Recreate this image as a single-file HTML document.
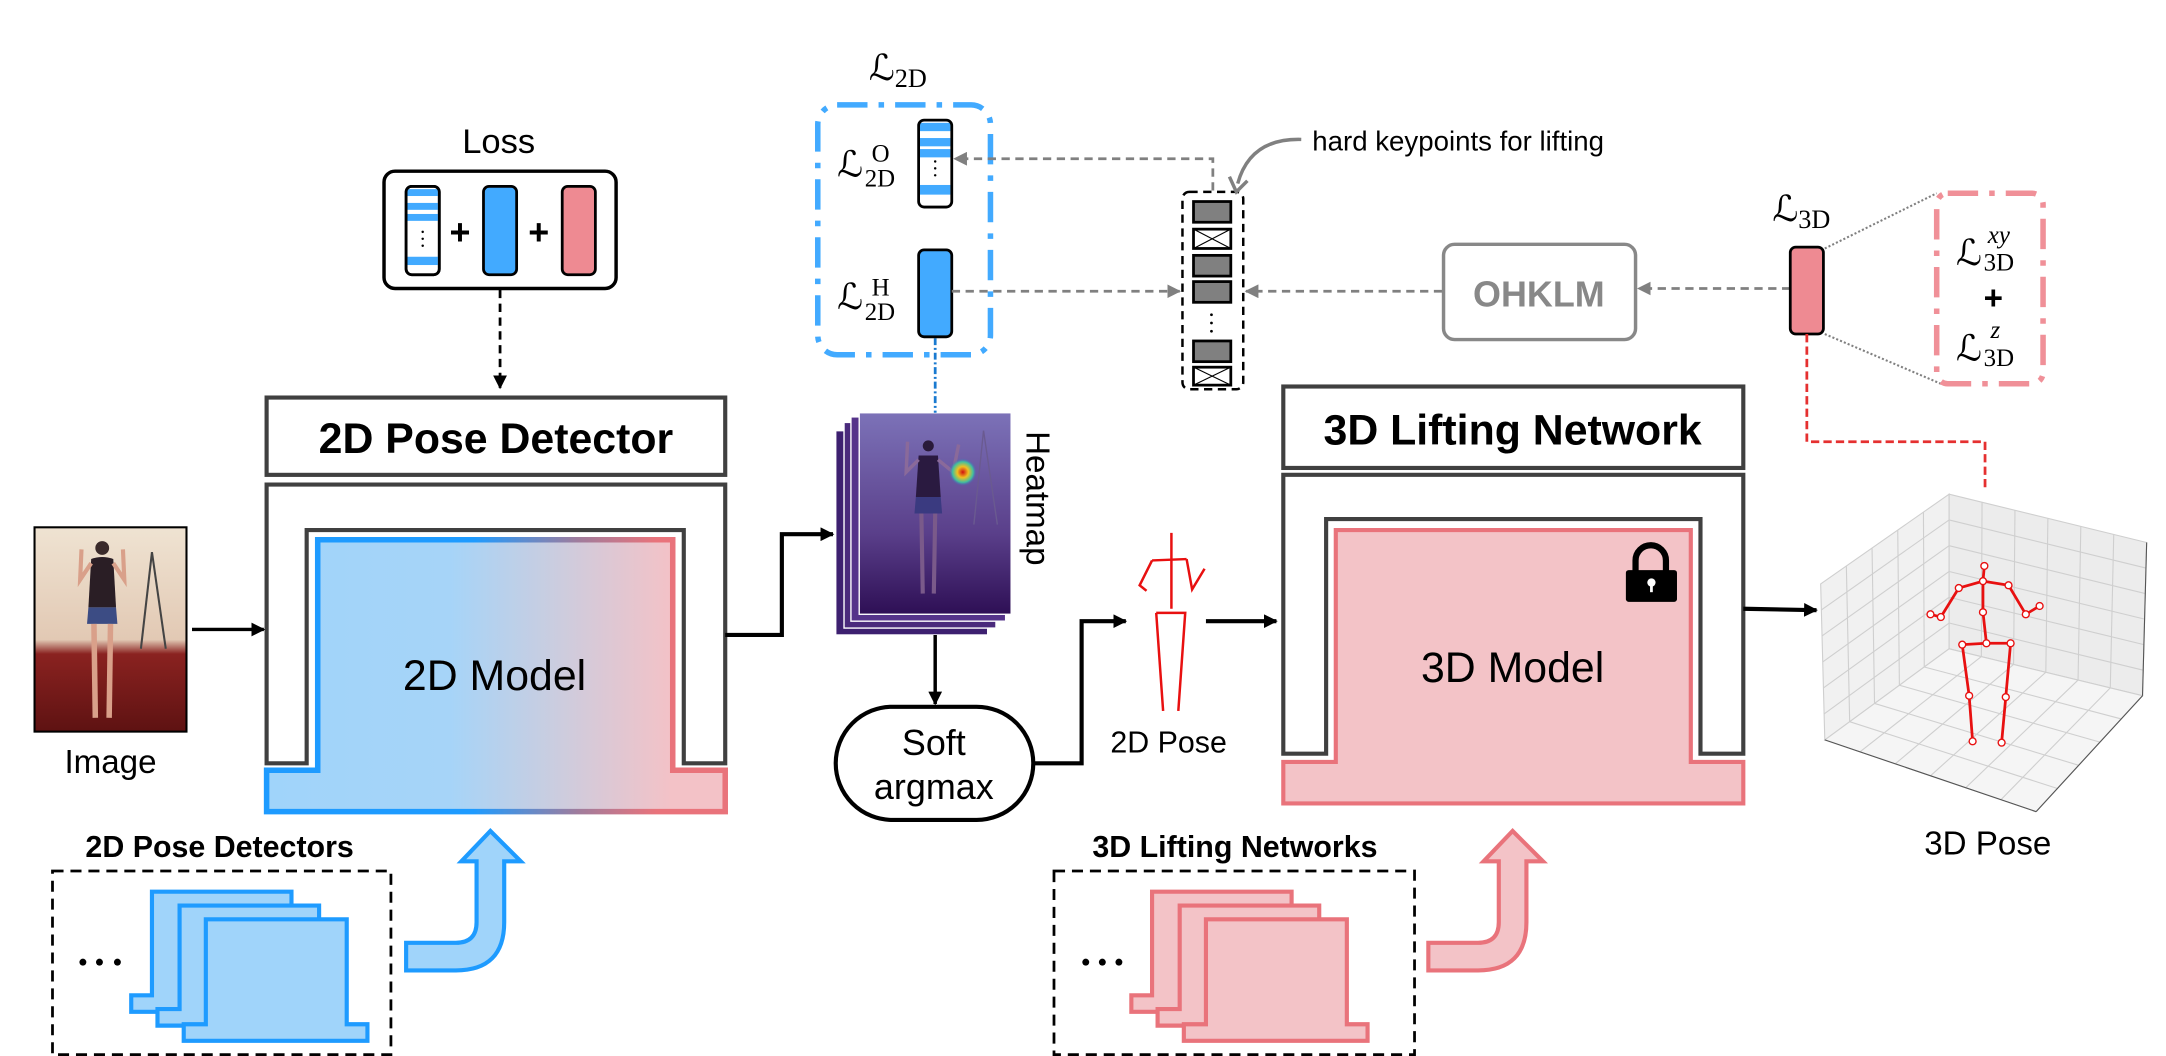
<!DOCTYPE html>
<html><head><meta charset="utf-8">
<style>
html,body{margin:0;padding:0;background:#fff;}
svg{display:block;}
text{font-family:"Liberation Sans",sans-serif;}
.m{font-family:"Liberation Serif","DejaVu Serif",serif;}
</style></head>
<body>
<svg width="2166" height="1056" viewBox="0 0 1568 765" preserveAspectRatio="none" xmlns="http://www.w3.org/2000/svg">
<defs>
<linearGradient id="gf" gradientUnits="userSpaceOnUse" x1="193" y1="0" x2="525" y2="0">
<stop offset="0" stop-color="#a0d4fa"/><stop offset="0.4" stop-color="#a6d4f8"/><stop offset="0.62" stop-color="#c9cde0"/><stop offset="0.88" stop-color="#f3c2c7"/><stop offset="1" stop-color="#f3c2c7"/></linearGradient>
<linearGradient id="gs" gradientUnits="userSpaceOnUse" x1="193" y1="0" x2="525" y2="0">
<stop offset="0" stop-color="#1e9bff"/><stop offset="0.45" stop-color="#1e9bff"/><stop offset="0.68" stop-color="#a07c9c"/><stop offset="0.85" stop-color="#e9737b"/><stop offset="1" stop-color="#e9737b"/></linearGradient>
<linearGradient id="hm" x1="0" y1="0" x2="0" y2="1">
<stop offset="0" stop-color="#7c72b8"/><stop offset="0.6" stop-color="#5a3f8a"/><stop offset="1" stop-color="#2e0f55"/></linearGradient>
<linearGradient id="ph" x1="0" y1="0" x2="0" y2="1">
<stop offset="0" stop-color="#efe3d2"/><stop offset="0.55" stop-color="#e2c9b4"/><stop offset="0.62" stop-color="#8a2220"/><stop offset="1" stop-color="#5e1212"/></linearGradient>
<radialGradient id="blob"><stop offset="0" stop-color="#d01010"/><stop offset="0.4" stop-color="#f0c020"/><stop offset="0.75" stop-color="#40c0a0"/><stop offset="1" stop-color="#4060c0" stop-opacity="0"/></radialGradient>
<marker id="ab" markerWidth="10" markerHeight="10" refX="9" refY="5" orient="auto" markerUnits="userSpaceOnUse"><path d="M0,0 L10,5 L0,10 Z" fill="#000"/></marker>
<marker id="ag" markerWidth="10" markerHeight="10" refX="9" refY="5" orient="auto" markerUnits="userSpaceOnUse"><path d="M0,0 L10,5 L0,10 Z" fill="#808080"/></marker>
</defs>

<!-- Loss -->
<text x="361" y="111" font-size="25" text-anchor="middle">Loss</text>
<rect x="278" y="124" width="168" height="85" rx="8" fill="#fff" stroke="#000" stroke-width="2.5"/>
<g stroke="#000" stroke-width="2">
<rect x="294" y="135" width="24" height="64" rx="4" fill="#fff"/>
</g>
<rect x="295" y="137" width="22" height="5" fill="#42aaff"/>
<rect x="295" y="147" width="22" height="5" fill="#42aaff"/>
<rect x="295" y="155" width="22" height="5" fill="#42aaff"/>
<rect x="295" y="186" width="22" height="6" fill="#42aaff"/>
<circle cx="306" cy="168" r="0.9"/><circle cx="306" cy="173" r="0.9"/><circle cx="306" cy="178" r="0.9"/>
<rect x="294" y="135" width="24" height="64" rx="4" fill="none" stroke="#000" stroke-width="2"/>
<text x="333" y="177" font-size="26" font-weight="bold" text-anchor="middle">+</text>
<rect x="350" y="135" width="24" height="64" rx="4" fill="#42aaff" stroke="#000" stroke-width="2"/>
<text x="390" y="177" font-size="26" font-weight="bold" text-anchor="middle">+</text>
<rect x="407" y="135" width="24" height="64" rx="4" fill="#ee8a92" stroke="#000" stroke-width="2"/>
<line x1="362" y1="210" x2="362" y2="281" stroke="#000" stroke-width="2" stroke-dasharray="6,4" marker-end="url(#ab)"/>

<!-- 2D Pose Detector -->
<rect x="193" y="288" width="332" height="56" fill="#fff" stroke="#404040" stroke-width="3"/>
<text x="359" y="328" font-size="31" font-weight="bold" text-anchor="middle">2D Pose Detector</text>
<path d="M193,553 V351 H525 V553 H495 V384 H222 V553 Z" fill="#fff" stroke="#404040" stroke-width="3"/>
<path d="M193,558 H230 V391 H487 V558 H525 V588 H193 Z" fill="url(#gf)" stroke="url(#gs)" stroke-width="4"/>
<text x="358" y="500" font-size="31" text-anchor="middle">2D Model</text>

<!-- Image -->
<rect x="25" y="382" width="110" height="148" fill="url(#ph)" stroke="#000" stroke-width="1.5"/>
<line x1="110" y1="400" x2="102" y2="470" stroke="#444" stroke-width="1.5"/>
<line x1="110" y1="400" x2="120" y2="470" stroke="#444" stroke-width="1.5"/>
<circle cx="74" cy="397" r="5" fill="#3a2a2a"/>
<path d="M66,405 Q74,402 82,405 L84,440 L64,440 Z" fill="#2a1e25"/>
<path d="M64,440 H84 L85,452 H63 Z" fill="#3c4c84"/>
<line x1="68" y1="452" x2="69" y2="520" stroke="#d9a08a" stroke-width="4"/>
<line x1="80" y1="452" x2="79" y2="520" stroke="#d9a08a" stroke-width="4"/>
<path d="M66,408 L58,420 L59,398" fill="none" stroke="#d9a08a" stroke-width="3"/>
<path d="M82,408 L90,420 L89,398" fill="none" stroke="#d9a08a" stroke-width="3"/>
<text x="80" y="560" font-size="24" text-anchor="middle">Image</text>
<line x1="139" y1="456" x2="191" y2="456" stroke="#000" stroke-width="2.5" marker-end="url(#ab)"/>
<polyline points="525,460 566,460 566,387 603,387" fill="none" stroke="#000" stroke-width="3" marker-end="url(#ab)"/>

<!-- Heatmap stack -->
<rect x="605" y="312" width="110" height="148" fill="#3d2070" stroke="#fff" stroke-width="1"/>
<rect x="611" y="306" width="110" height="149" fill="#4a2a7c" stroke="#fff" stroke-width="1"/>
<rect x="616" y="302" width="112" height="148" fill="#55338a" stroke="#fff" stroke-width="1"/>
<rect x="622" y="299" width="110" height="146" fill="url(#hm)" stroke="#fff" stroke-width="1"/>
<circle cx="672" cy="323" r="4" fill="#2a1a3a"/>
<path d="M665,330 L679,330 L681,360 L663,360 Z" fill="#2a1a40"/>
<path d="M663,360 H681 L682,372 H662 Z" fill="#3a3a80"/>
<line x1="667" y1="372" x2="668" y2="430" stroke="#7a5a8a" stroke-width="3"/>
<line x1="677" y1="372" x2="676" y2="430" stroke="#7a5a8a" stroke-width="3"/>
<path d="M665,333 L656,342 L657,320" fill="none" stroke="#8a6a9a" stroke-width="2.5"/>
<path d="M679,333 L690,342 L694,322" fill="none" stroke="#8a6a9a" stroke-width="2.5"/>
<line x1="712" y1="312" x2="705" y2="380" stroke="#6a5a90" stroke-width="1"/>
<line x1="712" y1="312" x2="722" y2="380" stroke="#6a5a90" stroke-width="1"/>
<circle cx="697" cy="342" r="10" fill="url(#blob)"/>
<text transform="translate(743,361) rotate(90)" font-size="24" text-anchor="middle">Heatmap</text>
<line x1="677" y1="245" x2="677" y2="299" stroke="#1a7ad0" stroke-width="2" stroke-dasharray="5,2,1.5,2"/>
<line x1="677" y1="460" x2="677" y2="510" stroke="#000" stroke-width="2.5" marker-end="url(#ab)"/>
<rect x="605" y="512" width="143" height="82" rx="41" fill="#fff" stroke="#000" stroke-width="3"/>
<text x="676" y="547" font-size="26" text-anchor="middle">Soft</text>
<text x="676" y="579" font-size="26" text-anchor="middle">argmax</text>
<polyline points="748,553 783,553 783,450 815,450" fill="none" stroke="#000" stroke-width="3" marker-end="url(#ab)"/>

<!-- L2D -->
<text x="650" y="58" class="m" font-size="26" text-anchor="middle">ℒ<tspan font-size="19" dy="5">2D</tspan></text>
<rect x="592" y="76" width="125" height="181" rx="14" fill="none" stroke="#42aaff" stroke-width="4" stroke-dasharray="22,8,4,8"/>
<text x="606" y="128" class="m" font-size="26">ℒ</text>
<text x="631" y="117" class="m" font-size="18">O</text>
<text x="626" y="135" class="m" font-size="18">2D</text>
<text x="606" y="224" class="m" font-size="26">ℒ</text>
<text x="631" y="214" class="m" font-size="18">H</text>
<text x="626" y="232" class="m" font-size="18">2D</text>
<rect x="665" y="87" width="24" height="63" rx="4" fill="#fff"/>
<rect x="666" y="89" width="22" height="6" fill="#42aaff"/>
<rect x="666" y="100" width="22" height="6" fill="#42aaff"/>
<rect x="666" y="108" width="22" height="6" fill="#42aaff"/>
<rect x="666" y="134" width="22" height="7" fill="#42aaff"/>
<circle cx="677" cy="117" r="0.9"/><circle cx="677" cy="122" r="0.9"/><circle cx="677" cy="127" r="0.9"/>
<rect x="665" y="87" width="24" height="63" rx="4" fill="none" stroke="#000" stroke-width="2"/>
<rect x="665" y="181" width="24" height="63" rx="4" fill="#42aaff" stroke="#000" stroke-width="2"/>

<!-- gray dashed arrows -->
<polyline points="878,138 878,115 691,115" fill="none" stroke="#808080" stroke-width="2" stroke-dasharray="6,4" marker-end="url(#ag)"/>
<line x1="689" y1="211" x2="854" y2="211" stroke="#808080" stroke-width="2" stroke-dasharray="6,4" marker-end="url(#ag)"/>
<line x1="1044" y1="211" x2="902" y2="211" stroke="#808080" stroke-width="2" stroke-dasharray="6,4" marker-end="url(#ag)"/>
<line x1="1296" y1="209" x2="1186" y2="209" stroke="#808080" stroke-width="2" stroke-dasharray="6,4" marker-end="url(#ag)"/>

<!-- keypoints box -->
<rect x="856" y="139" width="44" height="143" rx="5" fill="#fff" stroke="#000" stroke-width="1.8" stroke-dasharray="6,4"/>
<g stroke="#000" stroke-width="2">
<rect x="864" y="146" width="27" height="15" fill="#808080"/>
<rect x="864" y="166" width="27" height="14" fill="#fff"/>
<rect x="864" y="185" width="27" height="15" fill="#808080"/>
<rect x="864" y="204" width="27" height="15" fill="#808080"/>
<rect x="864" y="247" width="27" height="15" fill="#808080"/>
<rect x="864" y="266" width="27" height="13" fill="#fff"/>
</g>
<g stroke="#000" stroke-width="0.8">
<line x1="864" y1="166" x2="891" y2="180"/><line x1="891" y1="166" x2="864" y2="180"/>
<line x1="864" y1="266" x2="891" y2="279"/><line x1="891" y1="266" x2="864" y2="279"/>
</g>
<circle cx="877" cy="228" r="1"/><circle cx="877" cy="234" r="1"/><circle cx="877" cy="240" r="1"/>
<text x="950" y="109" font-size="20">hard keypoints for lifting</text>
<path d="M942,101 Q905,100 896,133" fill="none" stroke="#808080" stroke-width="2.5"/>
<path d="M890,128 L895,139 L903,131" fill="none" stroke="#808080" stroke-width="2.5"/>

<!-- OHKLM -->
<rect x="1045" y="177" width="139" height="69" rx="8" fill="#fff" stroke="#888" stroke-width="2.5"/>
<text x="1114" y="222" font-size="26" font-weight="bold" fill="#888" text-anchor="middle">OHKLM</text>

<!-- L3D -->
<text x="1304" y="160" class="m" font-size="26" text-anchor="middle">ℒ<tspan font-size="19" dy="5">3D</tspan></text>
<rect x="1296" y="179" width="24" height="63" rx="4" fill="#ee8a92" stroke="#000" stroke-width="2"/>
<line x1="1321" y1="180" x2="1402" y2="140" stroke="#808080" stroke-width="1.5" stroke-dasharray="1.5,1.5"/>
<line x1="1321" y1="242" x2="1405" y2="278" stroke="#808080" stroke-width="1.5" stroke-dasharray="1.5,1.5"/>
<rect x="1402" y="140" width="77" height="138" rx="8" fill="#fff" stroke="#f09098" stroke-width="4" stroke-dasharray="22,8,4,8"/>
<text x="1416" y="192" class="m" font-size="26">ℒ</text>
<text x="1439" y="176" class="m" font-size="18" font-style="italic">xy</text>
<text x="1436" y="196" class="m" font-size="18">3D</text>
<text x="1443" y="224" font-size="24" font-weight="bold" text-anchor="middle">+</text>
<text x="1416" y="261" class="m" font-size="26">ℒ</text>
<text x="1441" y="245" class="m" font-size="18" font-style="italic">z</text>
<text x="1436" y="265" class="m" font-size="18">3D</text>
<polyline points="1308,242 1308,320 1437,320 1437,356" fill="none" stroke="#e53030" stroke-width="2" stroke-dasharray="6,3"/>

<!-- 3D Lifting -->
<rect x="929" y="280" width="333" height="59" fill="#fff" stroke="#404040" stroke-width="3"/>
<text x="1095" y="322" font-size="31" font-weight="bold" text-anchor="middle">3D Lifting Network</text>
<path d="M929,546 V344 H1262 V546 H1231 V376 H960 V546 Z" fill="#fff" stroke="#404040" stroke-width="3"/>
<path d="M929,552 H967 V384 H1224 V552 H1262 V582 H929 Z" fill="#f3c3c7" stroke="#e9737b" stroke-width="3"/>
<text x="1095" y="494" font-size="31" text-anchor="middle">3D Model</text>
<!-- lock -->
<path d="M1184,414 V406 A11,11 0 0 1 1206,406 V414" fill="none" stroke="#000" stroke-width="4.5"/>
<rect x="1177" y="413" width="37" height="23" rx="2" fill="#000"/>
<circle cx="1195.5" cy="422" r="3" fill="#fff"/><rect x="1194.5" y="423" width="2" height="6" fill="#fff"/>
<line x1="1262" y1="441" x2="1315" y2="442" stroke="#000" stroke-width="3" marker-end="url(#ab)"/>

<!-- 2D pose figure -->
<g stroke="#e81010" stroke-width="1.8" fill="none">
<line x1="848" y1="386" x2="848" y2="441"/>
<line x1="834" y1="406" x2="859" y2="405"/>
<polyline points="834,406 825,424 830,428"/>
<polyline points="859,405 863,427 872,412"/>
<path d="M837,444 H858 L853,515 M837,444 L842,515"/>
</g>
<line x1="873" y1="450" x2="924" y2="450" stroke="#000" stroke-width="3" marker-end="url(#ab)"/>
<text x="846" y="545" font-size="22" text-anchor="middle">2D Pose</text>

<!-- 3D plot -->
<g stroke="#cfcfcf" stroke-width="0.8">
<path d="M1318,423 L1411,358 L1411,470 L1321,536 Z" fill="#f1f1f1"/>
<path d="M1411,358 L1554,393 L1551,504 L1411,470 Z" fill="#ececec"/>
<path d="M1321,536 L1411,470 L1551,504 L1474,588 Z" fill="#f5f5f5"/>
<g id="grid"></g>
</g>
<g stroke="#555" stroke-width="0.8"><line x1="1321" y1="536" x2="1474" y2="588"/><line x1="1474" y1="588" x2="1551" y2="504"/><line x1="1554" y1="393" x2="1551" y2="504"/></g>
<g stroke="#e81010" stroke-width="2" fill="none">
<polyline points="1397.5,445 1405,447 1418,426 1435.5,421 1454,424 1466.5,445 1476.5,439"/>
<polyline points="1436.5,410 1435.5,421 1435.5,443.5 1438,466"/>
<polyline points="1428,537 1425.5,504 1420.5,467 1438,466 1455.5,466 1452,505 1449,538"/>
</g>
<g fill="#fff" stroke="#e81010" stroke-width="1">
<circle cx="1397.5" cy="445" r="2.5"/><circle cx="1405" cy="447" r="2.5"/><circle cx="1418" cy="426" r="2.5"/><circle cx="1435.5" cy="421" r="2.5"/><circle cx="1454" cy="424" r="2.5"/><circle cx="1466.5" cy="445" r="2.5"/><circle cx="1476.5" cy="439" r="2.5"/><circle cx="1436.5" cy="410" r="2.5"/><circle cx="1435.5" cy="443.5" r="2.5"/><circle cx="1438" cy="466" r="2.5"/><circle cx="1420.5" cy="467" r="2.5"/><circle cx="1455.5" cy="466" r="2.5"/><circle cx="1425.5" cy="504" r="2.5"/><circle cx="1452" cy="505" r="2.5"/><circle cx="1428" cy="537" r="2.5"/><circle cx="1449" cy="538" r="2.5"/>
</g>
<text x="1439" y="619" font-size="24" text-anchor="middle">3D Pose</text>

<!-- bottom 2D -->
<text x="159" y="621" font-size="22" font-weight="bold" text-anchor="middle">2D Pose Detectors</text>
<rect x="38" y="631" width="245" height="133" fill="none" stroke="#000" stroke-width="2" stroke-dasharray="8,5"/>
<circle cx="60" cy="697" r="2.5"/><circle cx="72" cy="697" r="2.5"/><circle cx="85" cy="697" r="2.5"/>
<g id="st2" fill="#a0d4fa" stroke="#1e9bff" stroke-width="3">
<path d="M95,733 V721 H110 V646 H211 V721 H226 V733 Z"/>
<path d="M114,743 V731 H130 V656 H231 V731 H246 V743 Z"/>
<path d="M133,754 V742 H149 V666 H251 V742 H266 V754 Z"/>
</g>
<path d="M294,683 H330 Q345,683 345,668 V624 H334 L355,602 L377,624 H365 V668 Q365,703 330,703 H294 Z" fill="#a0d4fa" stroke="#1e9bff" stroke-width="3"/>

<!-- bottom 3D -->
<text x="894" y="621" font-size="22" font-weight="bold" text-anchor="middle">3D Lifting Networks</text>
<rect x="763" y="631" width="261" height="133" fill="none" stroke="#000" stroke-width="2" stroke-dasharray="8,5"/>
<circle cx="786" cy="697" r="2.5"/><circle cx="798" cy="697" r="2.5"/><circle cx="810" cy="697" r="2.5"/>
<g transform="translate(724,0)" fill="#f3c3c7" stroke="#e9737b" stroke-width="3">
<path d="M95,733 V721 H110 V646 H211 V721 H226 V733 Z"/>
<path d="M114,743 V731 H130 V656 H231 V731 H246 V743 Z"/>
<path d="M133,754 V742 H149 V666 H251 V742 H266 V754 Z"/>
</g>
<path transform="translate(740,0)" d="M294,683 H330 Q345,683 345,668 V624 H334 L355,602 L377,624 H365 V668 Q365,703 330,703 H294 Z" fill="#f3c3c7" stroke="#e9737b" stroke-width="3"/>
</svg>
<script>
(function(){
var g=document.getElementById('grid'),s='';
function L(a,b){return '<line x1="'+a[0]+'" y1="'+a[1]+'" x2="'+b[0]+'" y2="'+b[1]+'"/>';}
function lp(a,b,t){return [a[0]+(b[0]-a[0])*t,a[1]+(b[1]-a[1])*t];}
function quad(p0,p1,p2,p3,n,m){
 for(var i=1;i<n;i++){var t=i/n;s+=L(lp(p0,p1,t),lp(p3,p2,t));}
 for(var j=1;j<m;j++){var u=j/m;s+=L(lp(p0,p3,u),lp(p1,p2,u));}
}
quad([1318,423],[1411,358],[1411,470],[1321,536],5,6);
quad([1411,358],[1554,393],[1551,504],[1411,470],6,6);
quad([1321,536],[1411,470],[1551,504],[1474,588],5,6);
g.innerHTML=s;
})();
</script>
</body></html>
